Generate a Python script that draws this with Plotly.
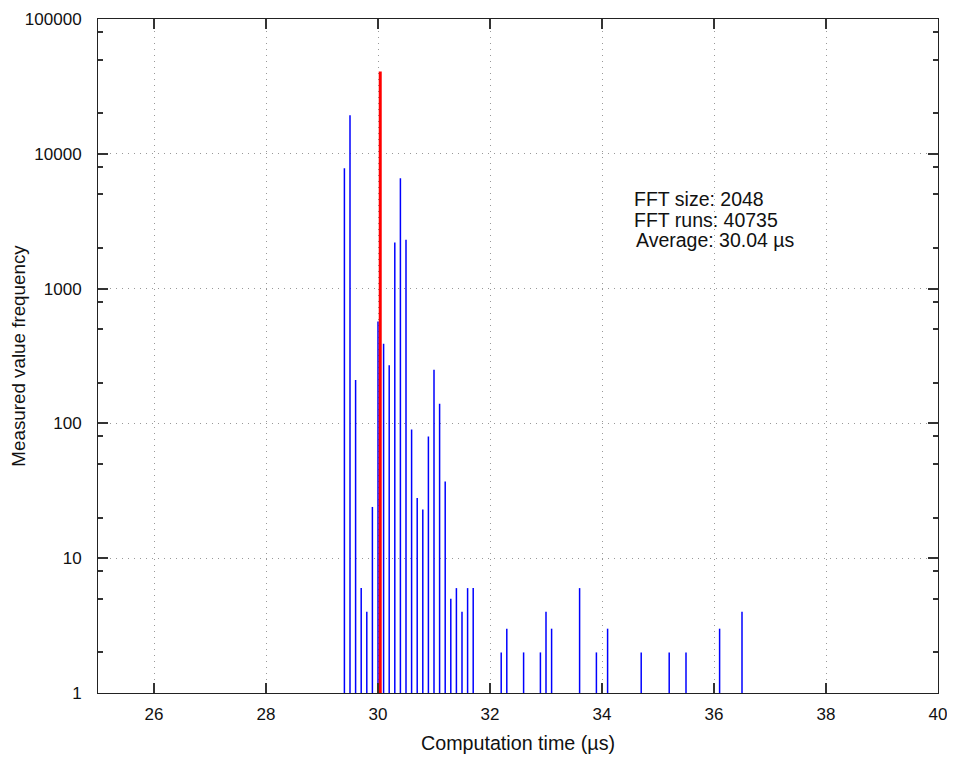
import plotly.graph_objects as go

# Histogram data: computation time bins (µs) and measured frequencies
times = [29.4, 29.5, 29.6, 29.7, 29.8, 29.9, 30.0, 30.1, 30.2, 30.3, 30.4, 30.5,
         30.6, 30.7, 30.8, 30.9, 31.0, 31.1, 31.2, 31.3, 31.4, 31.5, 31.6, 31.7,
         32.2, 32.3, 32.6, 32.9, 33.0, 33.1, 33.6, 33.9, 34.1, 34.7, 35.2, 35.5,
         36.1, 36.5]
counts = [7800, 19300, 210, 6, 4, 24, 570, 390, 270, 2200, 6600, 2300,
          90, 28, 23, 80, 250, 140, 37, 5, 6, 4, 6, 6,
          2, 3, 2, 2, 4, 3, 6, 2, 3, 2, 2, 2,
          3, 4]

average_time = 30.04
total_runs = 40735
fft_size = 2048

x_ticks = [26, 28, 30, 32, 34, 36, 38, 40]
y_ticks = [1, 10, 100, 1000, 10000, 100000]
y_minor = [m * 10 ** e for e in range(0, 5) for m in (2, 5, 8)]

annot_lines = [f"FFT size: {fft_size}", f"FFT runs: {total_runs}", f"Average: {average_time:.2f} µs"]

# Build impulse lines
bx, by = [], []
for t, c in zip(times, counts):
    bx += [t, t, None]
    by += [1, c, None]

fig = go.Figure()
fig.add_trace(go.Scatter(x=bx, y=by, mode="lines",
                         line=dict(color="#0000ff", width=1.5),
                         hoverinfo="skip", showlegend=False))
fig.add_trace(go.Scatter(x=[average_time, average_time], y=[1, total_runs], mode="lines",
                         line=dict(color="#ff0000", width=3),
                         hoverinfo="skip", showlegend=False))

font_family = "Liberation Sans, Arial, sans-serif"

fig.update_layout(
    width=939, height=747,
    margin=dict(l=90, r=9, t=11, b=62),
    paper_bgcolor="white", plot_bgcolor="white",
    font=dict(family=font_family, size=17, color="#111"),
    showlegend=False,
)

fig.update_xaxes(
    range=[25, 40], tickvals=x_ticks, ticktext=[str(v) for v in x_ticks],
    ticks="inside", ticklen=10, tickwidth=1.5, tickcolor="#333",
    showline=True, linecolor="#222", linewidth=1, mirror="allticks",
    showgrid=True, gridcolor="#999999", griddash="1px,5px", gridwidth=1,
    zeroline=False, ticklabelstandoff=6, automargin=False,
    ticklabeloverflow="allow",
    tickfont=dict(size=17, family=font_family),
    title=dict(text="Computation time (µs)", font=dict(size=19.7, family=font_family), standoff=12),
)

fig.update_yaxes(
    type="log", range=[0, 5], tickvals=y_ticks, ticktext=[str(v) for v in y_ticks],
    ticks="inside", ticklen=10, tickwidth=1.5, tickcolor="#333",
    showline=True, linecolor="#222", linewidth=1, mirror="allticks",
    showgrid=True, gridcolor="#999999", griddash="1px,5px", gridwidth=1,
    zeroline=False, ticklabelstandoff=12, automargin=False,
    ticklabeloverflow="allow",
    minor=dict(tickvals=y_minor, ticks="inside", ticklen=5, tickwidth=1.5,
               tickcolor="#333", showgrid=False),
    tickfont=dict(size=17, family=font_family),
    title=dict(text="Measured value frequency", font=dict(size=18.8, family=font_family), standoff=2),
)

# Annotation text block
ann_y = [3.667, 3.511, 3.363]
ann_x = [34.535, 34.535, 34.565]
for txt, ax_, ay in zip(annot_lines, ann_x, ann_y):
    fig.add_annotation(x=ax_, y=ay, xref="x", yref="y", text=txt, showarrow=False,
                       xanchor="left", yanchor="middle",
                       font=dict(size=19.5, family=font_family, color="#111"))

fig.write_html("out.html")
